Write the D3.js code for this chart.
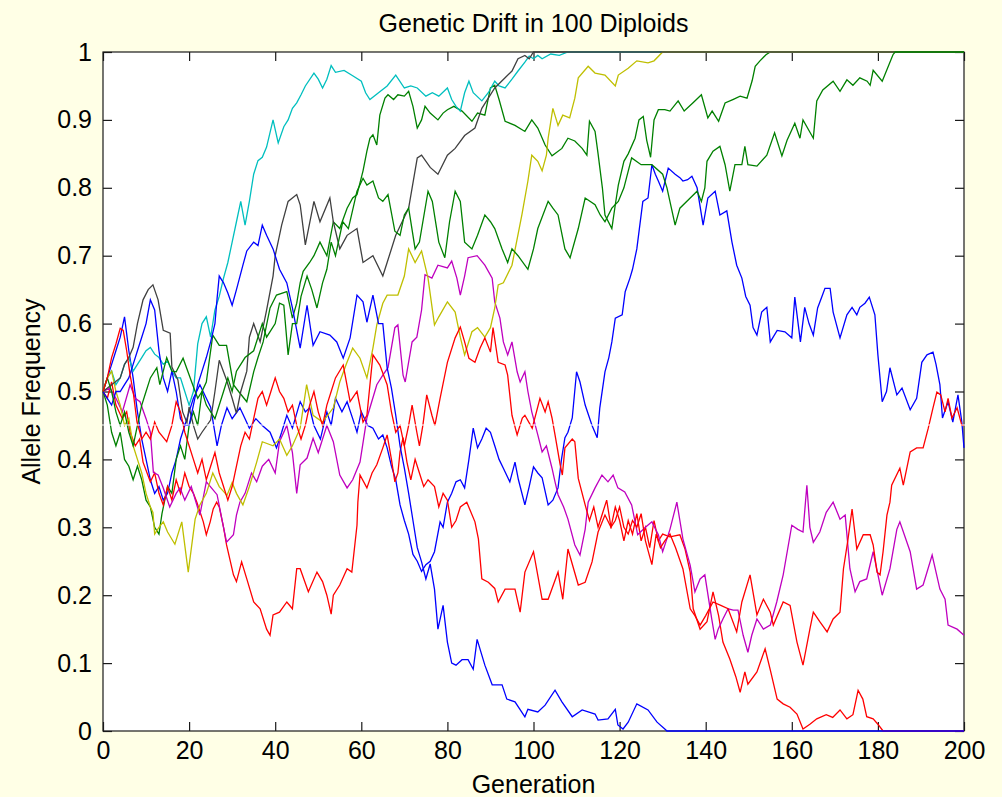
<!DOCTYPE html>
<html>
<head>
<meta charset="utf-8">
<script src="https://cdn.jsdelivr.net/npm/d3@7/dist/d3.min.js"></script>
<style>
  html, body { margin: 0; padding: 0; background: #ffffe6; }
  svg { display: block; }
  text { font-family: "Liberation Sans", Arial, Helvetica, sans-serif; fill: #000; }
</style>
</head>
<body>
<div id="chart"></div>
<script>
// tick labels
var xTicks = [0, 20, 40, 60, 80, 100, 120, 140, 160, 180, 200];
var yTicks = [0, 0.1, 0.2, 0.3, 0.4, 0.5, 0.6, 0.7, 0.8, 0.9, 1];

// allele frequency per run, [generation, frequency]
var blue1 = [[0,.5],[1,.52],[2,.54],[3,.56],[4,.58],[5,.61],[6,.56],[7,.52],[8,.47],[9,.43],[10,.4],[11,.37],[12,.35],[13,.36],[14,.34],[15,.35],[16,.38],[17,.4],[18,.43],[19,.45],[20,.47],[21,.49],[22.5,.51],[24,.49],[25,.477],[26.5,.42],[27.5,.45],[28.8,.476],[30,.46],[31.8,.476],[33,.46],[34,.446],[35.5,.46],[37,.45],[38.8,.44],[40.3,.417],[41.5,.44],[42.7,.465],[44,.446],[45.8,.485],[47,.47],[48,.476],[49,.45],[50.5,.43],[52,.47],[53,.45],[54,.49],[55.5,.47],[56.7,.485],[58,.46],[59,.44],[60,.47],[61.5,.45],[62.7,.446],[64,.43],[65,.436],[66,.417],[67,.39],[68,.37],[69,.333],[70,.31],[71,.29],[72,.26],[73,.25],[74,.235],[75,.245],[76,.25],[77,.264],[78.3,.308],[79,.3],[80,.337],[81,.35],[82,.367],[83,.37],[84,.358],[85,.4],[86,.446],[87,.417],[88,.43],[89,.446],[90,.44],[91,.42],[92,.4],[93,.387],[94.5,.367],[95.7,.396],[96.5,.37],[98,.333],[99,.36],[100,.389],[101,.38],[102,.373],[103.4,.333],[104.5,.34],[105.7,.358],[106.5,.4],[107.3,.432],[108,.44],[109,.461],[110,.529],[110.8,.514],[112,.48],[113.6,.45],[114.8,.432],[115.4,.476],[116.6,.529],[117.5,.55],[118.2,.573],[119,.608],[120.6,.613],[121.3,.647],[122.4,.667],[123,.68],[124,.71],[125.4,.78],[126.6,.785],[127.5,.834],[128.3,.82],[129,.81],[130,.795],[131.3,.829],[132.9,.82],[134,.815],[134.7,.81],[135.8,.812],[136.8,.817],[138,.8],[139.4,.745],[140.5,.785],[142.2,.795],[143.3,.76],[144.9,.766],[146.1,.72],[147.2,.686],[148.4,.667],[149.3,.64],[150.3,.627],[151,.594],[151.9,.583],[153,.617],[154.2,.624],[155,.573],[156.6,.59],[158.4,.588],[160,.579],[160.7,.639],[162,.573],[163,.624],[164,.6],[165,.583],[166,.623],[167,.64],[167.7,.652],[168.9,.652],[169.6,.617],[171.2,.579],[172.8,.613],[174,.624],[175.1,.613],[175.8,.624],[177,.63],[178,.639],[179.3,.613],[180,.554],[181,.485],[182,.5],[182.8,.535],[184.4,.495],[185.6,.505],[187.5,.473],[189,.49],[190.2,.543],[191.4,.554],[192.8,.558],[193.5,.54],[194.4,.51],[195,.461],[196.3,.485],[197.4,.455],[198.6,.495],[199.5,.455],[200,.417]];

var green1 = [[0,.5],[1,.48],[2,.44],[3,.42],[4,.44],[5,.4],[6,.39],[7,.37],[8,.39],[9,.37],[10,.34],[11,.33],[12,.3],[13,.29],[13.7,.32],[15,.36],[16,.35],[17,.4],[18,.42],[19,.4],[20,.45],[21,.47],[22,.45],[23,.5],[24,.514],[25.5,.583],[27,.568],[28.7,.568],[30.3,.51],[31.5,.5],[33.4,.485],[35,.529],[36,.55],[37.2,.573],[38.8,.623],[40.3,.642],[42.7,.647],[44,.608],[45,.63],[45.8,.66],[46.5,.677],[48,.69],[49,.7],[50.4,.72],[52,.7],[53.5,.75],[55,.74],[56.7,.77],[58,.785],[59,.79],[60.4,.825],[61.3,.854],[62,.873],[62.7,.878],[63.6,.863],[64.3,.907],[65.5,.932],[66.2,.937],[67.5,.93],[68.5,.937],[70,.935],[71,.942],[72,.92],[73,.888],[74,.9],[74.8,.92],[76,.91],[77.8,.9],[79,.91],[80,.915],[81.5,.92],[83.4,.913],[85.7,.898],[87,.91],[88.7,.907],[90,.947],[91,.951],[92,.93],[93.4,.898],[95.7,.892],[98,.883],[99.6,.9],[101,.888],[102.7,.863],[104.3,.847],[106.6,.858],[108,.873],[109.6,.869],[111.3,.858],[112.4,.848],[113,.898],[114.3,.883],[115,.85],[116,.8],[116.6,.76],[118.2,.74],[119,.775],[119.7,.804],[121,.839],[122,.85],[123.6,.873],[124.5,.9],[125.5,.905],[126.3,.87],[127.2,.845],[128,.9],[129,.915],[130.5,.915],[131.7,.913],[133.6,.928],[135,.913],[137,.925],[139,.937],[140.5,.903],[141.5,.913],[143,.898],[144.5,.925],[146.3,.93],[148,.935],[149.6,.932],[150.8,.958],[151.5,.979],[152.6,.987],[154,.996],[155,1],[200,1]];

var red1 = [[0,.5],[1,.49],[2,.514],[3,.48],[4.5,.46],[5.5,.47],[6.3,.44],[7.5,.42],[8.5,.43],[9.3,.396],[11,.367],[12,.38],[13,.35],[14,.333],[15,.36],[16,.34],[17,.37],[18,.35],[19,.38],[20,.36],[21,.35],[21.8,.337],[23.3,.308],[24,.289],[24.9,.308],[25.6,.327],[26.4,.337],[27,.33],[28,.3],[28.7,.274],[30.3,.23],[31,.22],[32.2,.249],[33.4,.224],[35,.19],[36.5,.18],[38,.15],[38.8,.141],[39.5,.171],[41,.175],[42.7,.19],[44,.18],[45,.239],[45.8,.239],[47.7,.205],[49.7,.234],[51,.22],[52,.2],[53,.172],[53.5,.2],[55,.215],[56.7,.239],[57.8,.234],[59,.303],[59.2,.337],[59.7,.377],[61.3,.358],[62.5,.38],[63.6,.392],[65,.417],[66,.436],[67,.4],[67.8,.367],[68.5,.38],[69,.411],[69.7,.432],[70.6,.396],[71.5,.37],[72.5,.4],[73.5,.38],[74.5,.36],[75.5,.37],[77,.36],[78,.33],[79,.35],[80,.34],[81,.3],[82,.31],[83,.33],[84.5,.337],[86.4,.308],[87.2,.283],[88,.224],[89.5,.219],[91,.21],[91.8,.19],[93.4,.209],[95.7,.209],[96.9,.175],[98,.234],[100,.264],[102,.194],[103.4,.194],[105.7,.234],[106.8,.194],[108,.268],[110.4,.215],[112,.219],[113.6,.249],[115,.293],[116.6,.318],[118,.3],[119,.33],[120,.31],[121,.28],[122,.31],[123,.29],[124,.32],[125,.28],[126,.3],[127,.27],[128,.31],[129,.28],[130,.29],[131.7,.286],[134,.289],[135.2,.268],[136.4,.234],[137.1,.18],[138.7,.15],[140.3,.161],[141.7,.205],[143,.17],[144,.131],[145.6,.106],[147,.08],[148,.057],[149.1,.087],[149.8,.069],[151.9,.087],[153.8,.121],[155,.09],[156.6,.047],[158,.04],[159.6,.035],[161.2,.025],[162.6,.003],[164.2,.01],[165.8,.018],[168,.024],[169.5,.02],[171.2,.031],[172.8,.018],[174.2,.024],[175.4,.06],[176.5,.047],[177.4,.021],[178.9,.018],[180,.01],[181.2,0],[200,0]];

var cyan1 = [[0,.5],[1,.52],[2,.53],[3,.51],[4,.52],[5,.54],[6,.55],[7,.53],[8,.54],[9,.55],[10,.56],[11,.565],[12,.555],[13,.55],[14,.54],[15,.545],[16,.53],[17,.52],[18,.52],[19,.5],[20,.48],[21,.5],[22,.57],[23,.6],[24,.61],[25,.58],[26,.62],[27,.64],[28,.667],[29,.69],[30,.72],[31,.75],[32,.78],[33,.745],[34,.78],[35,.82],[36,.84],[37,.845],[38,.86],[39.5,.9],[40.7,.866],[42,.89],[43,.9],[44,.917],[45,.925],[46,.937],[47,.95],[49,.969],[50,.96],[51,.947],[52,.96],[53,.98],[54,.97],[56,.973],[58,.965],[60,.957],[61,.94],[62,.93],[64,.94],[66,.95],[68,.966],[70,.947],[71.5,.95],[73,.947],[75,.935],[76.5,.94],[78,.935],[80,.947],[81,.93],[82,.92],[83,.913],[84,.94],[85,.957],[86,.94],[88,.928],[89.5,.94],[91,.957],[92,.95],[93.4,.947],[95,.96],[96.4,.972],[98,.985],[99,.994],[100,.99],[101,.995],[102,.99],[104,.997],[106,.995],[108,1],[200,1]];

var magenta1 = [[0,.5],[1.6,.505],[3,.49],[4.5,.47],[6.3,.51],[7.5,.49],[8.6,.485],[10,.46],[11,.44],[11.7,.381],[12.8,.377],[14,.358],[15.5,.33],[17,.35],[17.9,.358],[19,.34],[20.5,.36],[22.5,.318],[24,.367],[26.5,.348],[28,.3],[28.7,.278],[30.3,.289],[31,.318],[31.8,.337],[33,.35],[34.5,.38],[35.7,.367],[37,.39],[38.5,.4],[40,.38],[41,.426],[42.7,.45],[44,.41],[45,.35],[45.8,.392],[47.4,.402],[48.8,.431],[50,.41],[52,.45],[53.5,.426],[55,.377],[56.7,.358],[58,.37],[59.7,.396],[61.3,.461],[63.6,.51],[65,.524],[66.2,.535],[67.8,.594],[68.5,.598],[69.7,.524],[70.2,.514],[71.8,.573],[72.9,.58],[74,.62],[74.8,.672],[76.4,.667],[77.8,.686],[80,.682],[81,.692],[82.2,.667],[83,.642],[84,.67],[84.8,.697],[86.9,.7],[88.7,.686],[90.4,.667],[91,.632],[92.2,.608],[93,.573],[94,.554],[95,.573],[96.2,.529],[96.9,.514],[98,.529],[98.7,.5],[99.6,.47],[101,.436],[102,.411],[103,.42],[104.3,.387],[105,.367],[105.7,.348],[107,.33],[108,.312],[109.6,.274],[110.8,.259],[112,.297],[112.7,.337],[114.3,.358],[115.9,.377],[117.3,.367],[118.5,.377],[119.6,.358],[121.2,.352],[122.8,.333],[124.2,.289],[126,.3],[127.5,.308],[129,.289],[130,.264],[131.7,.297],[133.3,.337],[134.7,.283],[136.4,.244],[137.5,.205],[138.7,.224],[139.8,.23],[141.4,.165],[142.2,.135],[142.9,.15],[144,.165],[145.2,.18],[146.4,.178],[147.5,.178],[148.7,.141],[149.8,.116],[150.7,.141],[151.9,.165],[153.4,.15],[155,.156],[156.5,.19],[158,.23],[160,.303],[161.4,.297],[162.6,.293],[163.5,.362],[164.2,.3],[165,.278],[166.5,.293],[168,.322],[169.6,.337],[171.2,.312],[172.4,.318],[173.5,.239],[174.7,.205],[175.8,.22],[177.4,.224],[178.9,.264],[181,.2],[182.8,.239],[184.4,.297],[185.1,.308],[187.5,.264],[189,.209],[190.5,.215],[192.6,.259],[194.4,.209],[195.6,.194],[196.3,.156],[198.4,.15],[200,.141]];

var yellow1 = [[0,.5],[1,.52],[2,.53],[3,.5],[4,.48],[5,.45],[6,.46],[7,.42],[8,.4],[9,.38],[10,.35],[11,.33],[11.6,.322],[12,.29],[13,.3],[14,.308],[15,.293],[16.7,.275],[18.3,.308],[19.8,.234],[21.4,.312],[22.5,.333],[24,.35],[25.5,.38],[27,.36],[28.8,.347],[30,.366],[31,.35],[32.5,.333],[34,.36],[35.7,.396],[37,.426],[39.5,.42],[41,.43],[42.7,.406],[44,.42],[45.8,.446],[47.3,.51],[48.8,.465],[51,.455],[53.5,.476],[55,.514],[56.5,.54],[58,.564],[59.7,.549],[61.3,.52],[62.7,.564],[63.6,.598],[65,.63],[66,.642],[68.5,.642],[70,.67],[71,.71],[72.5,.69],[74,.707],[75.5,.667],[77,.598],[78,.61],[80,.632],[81.8,.617],[83,.58],[84,.554],[85.7,.588],[87,.594],[88.7,.58],[90,.594],[91,.623],[91.8,.657],[93,.66],[95,.686],[97.3,.76],[98.7,.81],[99.6,.848],[101,.839],[102,.825],[103,.848],[103.4,.873],[104.5,.917],[105.7,.892],[106.8,.907],[108.4,.903],[109.6,.932],[110.4,.962],[112.7,.979],[114.3,.969],[116.6,.966],[119,.95],[119.7,.966],[122,.976],[124,.987],[126.6,.984],[128,.987],[130,1],[200,1]];

var gray1 = [[0,.5],[2,.51],[4,.52],[5,.54],[6,.55],[7,.565],[8,.6],[9.3,.635],[10.5,.65],[11.6,.657],[12.8,.635],[14,.59],[15.6,.586],[16,.536],[17.4,.517],[18.5,.47],[19.5,.454],[20,.477],[21,.45],[22,.43],[23,.44],[25,.458],[26,.5],[27,.546],[28.7,.517],[30,.49],[31,.468],[32,.5],[33.4,.53],[34,.58],[35,.6],[36.5,.573],[38,.62],[39.5,.67],[40,.7],[41.5,.745],[43,.78],[45,.79],[45.8,.775],[47,.716],[49,.78],[50.4,.75],[52.7,.785],[53.5,.75],[55,.71],[56.7,.73],[59,.74],[60.4,.69],[62.7,.7],[65,.67],[66,.69],[68,.73],[71,.77],[73,.844],[74,.848],[76,.83],[77.8,.82],[80,.848],[81.8,.858],[84,.877],[86.4,.888],[88,.917],[89.5,.932],[91,.947],[93.4,.962],[95,.972],[96.4,.99],[98,.995],[99,.99],[100,1],[200,1]];

var blue2 = [[0,.5],[1,.49],[2,.48],[3,.5],[4,.5],[5,.51],[6,.52],[7,.54],[8,.56],[9,.58],[10,.6],[11,.635],[12,.62],[13,.56],[14,.52],[15,.5],[16,.53],[17,.5],[18,.46],[19,.45],[20,.45],[21,.48],[22,.51],[23,.53],[24,.55],[25,.573],[26,.6],[26.5,.637],[27,.67],[28,.66],[29,.645],[30,.627],[31,.65],[32.5,.686],[33.4,.707],[35,.72],[36,.715],[37,.745],[38,.73],[39.5,.71],[41,.68],[42.7,.66],[44,.623],[45.8,.564],[47.4,.627],[48.8,.568],[50.4,.588],[52.7,.583],[54.3,.573],[55.8,.549],[57.4,.579],[59,.642],[60.4,.632],[61.3,.602],[62.7,.642],[64,.6],[65,.6],[66,.535],[67,.505],[68,.465],[69,.42],[70,.387],[71,.35],[72,.31],[73,.27],[74,.249],[75,.224],[76,.246],[77,.209],[77.8,.15],[79,.185],[80,.131],[81,.1],[82,.097],[83.4,.105],[84.8,.105],[86,.091],[86.9,.135],[88.7,.097],[90.4,.068],[92.7,.068],[93.8,.047],[95.7,.043],[98,.021],[98.7,.032],[101,.028],[102.7,.038],[105,.06],[106.6,.043],[109,.021],[111.3,.031],[114.3,.025],[115,.016],[117.3,.018],[119,.032],[119.6,.009],[120.8,.003],[122,.013],[124,.04],[126.6,.031],[128.7,.013],[130.5,.003],[131,0],[200,0]];

var green2 = [[0,.5],[1,.52],[2,.5],[3,.47],[4,.45],[5,.47],[6,.44],[7,.42],[8,.45],[9,.48],[10,.5],[11,.52],[12.5,.535],[13.2,.51],[14.8,.55],[16,.53],[17,.529],[18.6,.549],[20.6,.514],[22,.49],[23,.5],[24,.48],[26,.46],[28,.5],[29,.52],[30,.5],[31,.53],[33,.55],[35,.56],[37,.6],[38,.58],[40,.6],[41,.63],[42,.627],[43,.554],[44,.6],[45,.6],[46,.64],[47.4,.67],[48.5,.65],[49.7,.623],[51,.66],[52,.68],[53,.72],[54,.7],[55.7,.75],[57,.74],[59,.795],[60.4,.814],[61.3,.804],[62.7,.81],[64,.785],[65,.78],[66.2,.79],[67.8,.736],[69,.73],[70,.76],[71,.77],[72.5,.71],[73.5,.72],[75.5,.795],[76.5,.78],[78,.72],[79.4,.697],[80.5,.75],[81.8,.795],[83,.78],[84,.72],[85.7,.71],[87,.73],[88.7,.76],[90,.75],[91,.74],[92.7,.71],[94,.69],[95,.71],[96.4,.7],[98.7,.68],[100,.71],[101,.74],[103.4,.78],[104.5,.77],[105.7,.76],[107.3,.71],[108.5,.697],[110.4,.74],[112,.785],[114.3,.775],[115.5,.76],[116.6,.75],[118.2,.77],[119.7,.78],[121,.8],[122.8,.844],[125,.834],[127.5,.834],[130,.82],[131,.8],[132.9,.745],[134,.77],[136.4,.785],[138,.795],[139,.78],[139.8,.8],[140.3,.839],[141.7,.854],[143.3,.861],[144.5,.834],[145.6,.795],[146.8,.834],[148.4,.834],[149.1,.861],[149.8,.834],[151.9,.832],[154.2,.848],[156,.881],[157.7,.847],[158.9,.87],[160.7,.895],[161.9,.873],[162.6,.9],[165,.873],[165.8,.928],[167.2,.944],[169.6,.957],[171.2,.942],[172.8,.959],[174.2,.951],[175.8,.962],[177.5,.957],[178.2,.951],[178.9,.973],[181,.957],[183.5,.996],[184,1],[200,1]];

var red2 = [[0,.5],[1,.52],[2,.55],[3,.57],[4,.593],[4.7,.59],[5.5,.56],[6.3,.524],[7,.5],[7.9,.455],[9,.43],[10,.44],[11,.43],[12,.455],[13,.44],[14.8,.426],[16,.45],[17,.485],[18,.47],[19,.44],[20,.42],[21,.4],[22,.38],[23,.4],[24,.37],[25,.39],[26,.41],[27,.38],[28,.36],[29,.34],[30,.36],[31,.39],[32,.42],[33,.44],[34,.43],[35,.46],[36,.49],[37,.5],[38,.48],[39,.5],[40,.52],[41,.5],[42,.49],[43,.47],[44,.48],[45,.45],[46,.43],[47,.45],[48,.48],[49,.5],[50,.47],[51,.45],[52,.48],[53,.5],[54,.52],[55.8,.539],[57.4,.485],[59,.5],[60.4,.455],[61.3,.465],[62.7,.554],[64.3,.539],[66,.51],[67,.47],[68,.44],[69,.45],[70,.42],[71,.45],[71.8,.48],[72.9,.44],[73.5,.42],[74.3,.45],[75.2,.495],[76.4,.465],[77.1,.45],[78.3,.49],[80,.543],[81.8,.579],[83,.595],[84,.573],[85,.549],[86.4,.543],[87.6,.564],[88.7,.579],[90,.558],[90.6,.594],[91.8,.543],[93.4,.539],[94,.524],[95,.465],[96.2,.436],[97.4,.461],[98,.465],[99.7,.446],[101.5,.49],[102.7,.47],[103.4,.485],[104.3,.461],[105,.436],[106.2,.392],[106.7,.377],[107.3,.417],[109,.43],[109.6,.426],[110.4,.372],[112,.333],[113,.31],[114,.33],[115,.3],[116,.32],[117,.34],[118,.3],[119,.31],[120,.33],[121,.3],[122,.29],[123,.31],[124,.3],[125,.32],[126,.28],[127.5,.245],[128.5,.29],[129.5,.27],[130.5,.28],[131.7,.29],[133,.27],[134.7,.239],[136.4,.18],[137.5,.17],[138.7,.156],[140,.17],[141.7,.19],[143.5,.185],[145.2,.18],[147.2,.146],[148.4,.19],[150.3,.23],[151.9,.171],[153.4,.194],[155,.175],[155.7,.156],[158,.19],[159.6,.185],[161.2,.131],[162.6,.097],[164.2,.15],[165,.175],[166.5,.161],[168.2,.146],[169.6,.165],[171.2,.175],[172,.239],[173,.28],[174,.327],[175.1,.268],[176.6,.289],[178.2,.289],[178.9,.274],[179.8,.234],[180.5,.23],[181.2,.264],[182.1,.318],[182.8,.337],[183.2,.362],[185.1,.387],[185.9,.362],[187.5,.411],[189,.417],[190.5,.417],[191.7,.446],[192.8,.476],[193.7,.499],[194.6,.495],[195.6,.47],[196.3,.49],[197.2,.461],[198.4,.476],[199.5,.45],[200,.45]];

// plotting order follows matlab's colour order b g r c m y k
var runs = [blue1, green1, red1, cyan1, magenta1, yellow1, gray1, blue2, green2, red2];
var runColors = ["#0000ff", "#008000", "#ff0000", "#00bfbf", "#bf00bf", "#bfbf00", "#404040", "#0000ff", "#008000", "#ff0000"];

(function () {
    'use strict';

    var width = 1002, height = 797;
    var plotLeft = 103, plotRight = 964, plotTop = 52, plotBottom = 731;
    var fontSize = "25px";

    var svg = d3.select("#chart").append("svg")
        .attr("width", width)
        .attr("height", height);

    svg.append("rect")
        .attr("width", width)
        .attr("height", height)
        .attr("fill", "#ffffe6");

    var x = d3.scaleLinear().domain([0, 200]).range([plotLeft, plotRight]);
    var y = d3.scaleLinear().domain([0, 1]).range([plotBottom, plotTop]);

    // white plot area
    svg.append("rect")
        .attr("x", plotLeft)
        .attr("y", plotTop)
        .attr("width", plotRight - plotLeft)
        .attr("height", plotBottom - plotTop)
        .attr("fill", "#fff");

    var fmt = function (d) { return d3.format("~g")(d); };

    // axes with ticks pointing inwards, mirrored on top and right
    var gx = svg.append("g").attr("transform", "translate(0," + plotBottom + ")")
        .call(d3.axisBottom(x).tickValues(xTicks).tickSize(-9).tickPadding(10).tickFormat(fmt));
    var gxt = svg.append("g").attr("transform", "translate(0," + plotTop + ")")
        .call(d3.axisTop(x).tickValues(xTicks).tickSize(-9).tickFormat(""));
    var gy = svg.append("g").attr("transform", "translate(" + plotLeft + ",0)")
        .call(d3.axisLeft(y).tickValues(yTicks).tickSize(-9).tickPadding(11).tickFormat(fmt));
    var gyr = svg.append("g").attr("transform", "translate(" + plotRight + ",0)")
        .call(d3.axisRight(y).tickValues(yTicks).tickSize(-9).tickFormat(""));

    [gx, gxt, gy, gyr].forEach(function (g) {
        g.select(".domain").remove();
        g.selectAll("line").attr("stroke", "#1a1a1a").attr("stroke-width", 1.2);
        g.selectAll("text")
            .style("font-family", '"Liberation Sans", Arial, sans-serif')
            .style("font-size", fontSize)
            .attr("fill", "#000");
    });

    // box
    svg.append("rect")
        .attr("x", plotLeft)
        .attr("y", plotTop)
        .attr("width", plotRight - plotLeft)
        .attr("height", plotBottom - plotTop)
        .attr("fill", "none")
        .attr("stroke", "#1a1a1a")
        .attr("stroke-width", 1.2);

    // the runs, drawn over the box like matlab does
    var line = d3.line()
        .x(function (d) { return x(d[0]); })
        .y(function (d) { return y(d[1]); });

    svg.selectAll("path.run")
        .data(runs)
        .enter()
        .append("path")
        .attr("class", "run")
        .attr("d", line)
        .attr("fill", "none")
        .attr("stroke", function (d, i) { return runColors[i]; })
        .attr("stroke-width", 1.3);

    // stray white scan line seen in the source image
    svg.append("rect")
        .attr("x", plotLeft - 1)
        .attr("y", Math.round(y(0.45)) - 0.5)
        .attr("width", plotRight - plotLeft + 3)
        .attr("height", 1)
        .attr("fill", "#fff");

    // titles
    svg.append("text")
        .text("Genetic Drift in 100 Diploids")
        .attr("x", (plotLeft + plotRight) / 2)
        .attr("y", 32)
        .attr("text-anchor", "middle")
        .style("font-size", fontSize);

    svg.append("text")
        .text("Generation")
        .attr("x", (plotLeft + plotRight) / 2)
        .attr("y", 793)
        .attr("text-anchor", "middle")
        .style("font-size", fontSize);

    svg.append("text")
        .text("Allele Frequency")
        .attr("transform", "translate(40," + ((plotTop + plotBottom) / 2) + ") rotate(-90)")
        .attr("text-anchor", "middle")
        .style("font-size", fontSize);
}());
</script>
</body>
</html>
